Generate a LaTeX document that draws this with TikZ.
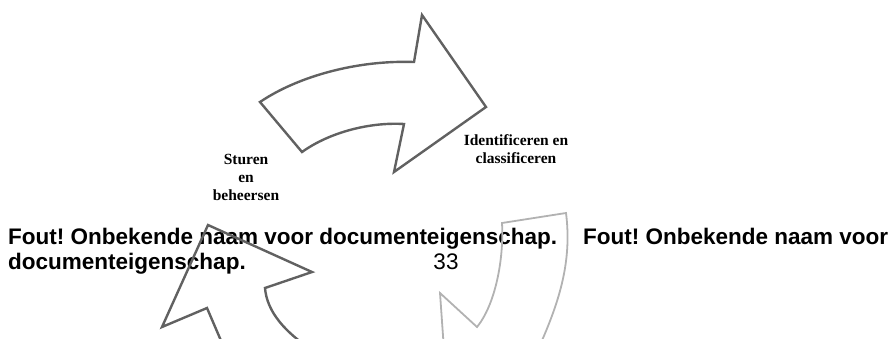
\documentclass[tikz,border=0pt]{standalone}
\usepackage{fontspec}
\setmainfont{Liberation Serif}
\newfontfamily\headfont{Liberation Sans}
\usetikzlibrary{positioning}
\frenchspacing

\begin{document}
\begin{tikzpicture}[
    x=1pt, y=-1pt,
    outline/.style={draw=black!62, line width=2.4pt, line join=miter},
    faint/.style={draw=black!30, line width=1.8pt, line join=miter},
    steplabel/.style={font=\bfseries\fontsize{15.5}{18}\selectfont, align=center, inner sep=0pt},
    errtext/.style={font=\headfont\bfseries\fontsize{22.5}{25}\selectfont, anchor=base west, inner sep=0pt}
]
\useasboundingbox (0,0) rectangle (890,338);
\clip (0,0) rectangle (890,338);

% header text
\node[errtext] (err1) at (8,244) {Fout! Onbekende naam voor documenteigenschap.};
\node[errtext] (err2) at (583,244) {Fout! Onbekende naam voor};
\node[errtext] (err3) at (8,269) {documenteigenschap.};
\node[font=\headfont\fontsize{22.5}{25}\selectfont, anchor=base, inner sep=0pt] (pagenr) at (446,269) {33};

% cycle labels
\node[steplabel] (sturen) at (246,177) {Sturen\\en\\beheersen};
\node[steplabel] (ident) at (516,149) {Identificeren en\\classificeren};

% upper arrow
\draw[outline] (260,102) .. controls (300,75) and (360,60) .. (414,62)
    -- (422,15) -- (486,107) -- (394,172) -- (404,124)
    .. controls (370,122) and (330,132) .. (302,152) -- cycle;

% lower left arrow
\draw[outline] (225,350) -- (207,308) -- (162,327) -- (208,225) -- (312,272) -- (265,288)
    .. controls (267,312) and (285,332) .. (312,350);

% lower right arrow
\draw[faint] (444,350) -- (440,293) -- (477,327)
    .. controls (495,305) and (504,260) .. (502,223) -- (566,213)
    .. controls (572,260) and (560,300) .. (540,345);
\end{tikzpicture}
\end{document}
